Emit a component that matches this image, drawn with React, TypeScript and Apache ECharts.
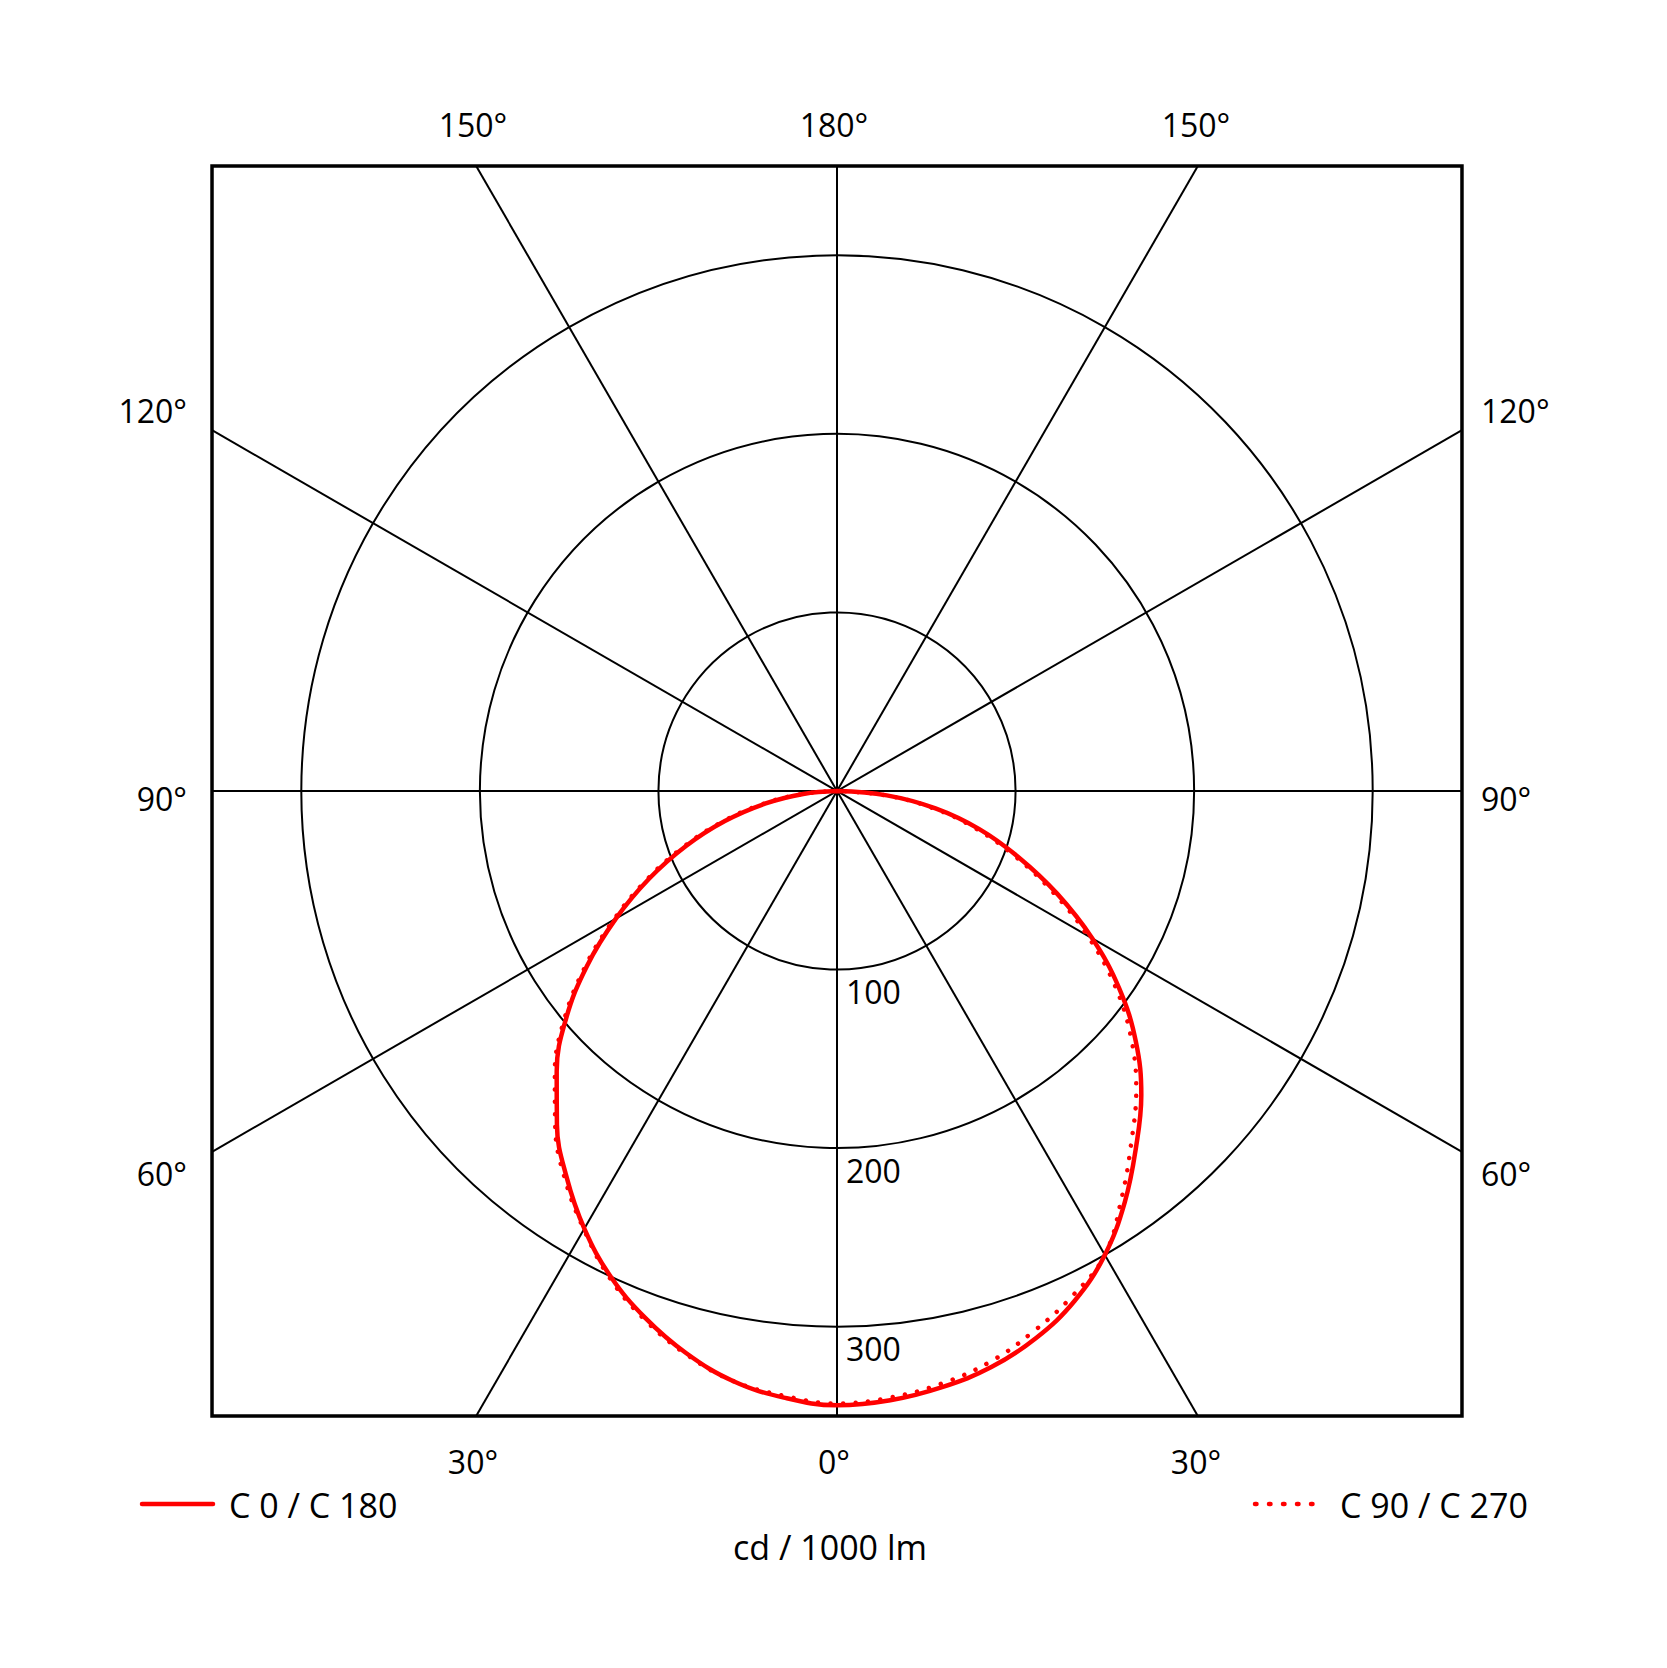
import React, { useEffect, useRef } from "react";
import * as echarts from "echarts";

// ---- data (cd / 1000 lm) ----
const gammaAngles = [0, 5, 10, 15, 20, 25, 30, 35, 40, 45, 50, 55, 60, 65, 70, 75, 80, 85, 90];
// right half, solid
const c0 = [344, 342.5, 339, 334, 326, 315, 300, 281, 260.5, 241, 218.5, 193, 165, 136, 108, 82.5, 56, 28, 0];
// left half, solid
const c180 = [344, 341, 335.5, 326, 314, 300, 283, 264, 244, 222, 198, 171, 143, 116, 90, 65, 41, 19, 0];
// right half, dotted
const c90 = [343, 341, 337, 331, 322, 312, 300, 278, 256.5, 237, 215, 190, 162, 133, 105.5, 80, 54, 27, 0];
// left half, dotted
const c270 = [343, 340, 335.5, 326.5, 315, 301, 283.5, 265.5, 245.5, 223.5, 199.5, 172.5, 144.5, 117.5, 91.5, 66.5, 42.5, 20, 0];

const radiusTicks = [100, 200, 300];
const radiusMax = 500; // axis extent (covers the frame corners); circles drawn only for radiusTicks
const frameHalf = 350; // cd, half size of the square frame
const spokeAngles = [0, 30, 60, 90, 120, 150];
const topLabels = ["150°", "180°", "150°"];
const bottomLabels = ["30°", "0°", "30°"];
const sideLabels = ["120°", "90°", "60°"];
const legendNames = ["C 0 / C 180", "C 90 / C 270"];
const unitLabel = "cd / 1000 lm";

// ---- layout ----
const W = 1667;
const H = 1668;
const CX = 837;
const CY = 791;
const PX_PER_CD = 535.7 / 300;
const FONT = '"Open Sans", "Noto Sans", sans-serif';
const FS = 32;
const FS_LEGEND = 34;
const RED = "#ff0000";

function buildCurve(left: number[], right: number[]) {
  const pts: number[][] = [];
  for (let i = gammaAngles.length - 1; i >= 0; i--) pts.push([left[i], gammaAngles[i]]);
  for (let i = 1; i < gammaAngles.length; i++) pts.push([right[i], 360 - gammaAngles[i]]);
  return pts;
}

function text(x: number, y: number, t: string, align: string, fs: number = FS) {
  return {
    type: "text",
    x,
    y,
    silent: true,
    style: {
      text: t,
      fill: "#000",
      fontSize: fs,
      fontFamily: FONT,
      align,
      verticalAlign: "middle",
      textAlign: align,
      textVerticalAlign: "middle",
    },
  };
}

export default function App() {
  const ref = useRef<HTMLDivElement>(null);
  useEffect(() => {
    if (!ref.current) return;
    const chart = echarts.init(ref.current, undefined, { renderer: "svg" });

    const spokeSeries = spokeAngles.map((a) => {
      const rad = (a * Math.PI) / 180;
      const len = frameHalf / Math.max(Math.abs(Math.cos(rad)), Math.abs(Math.sin(rad)));
      return {
        type: "line",
        coordinateSystem: "polar",
        data: [
          [len, a],
          [len, a + 180],
        ],
        symbol: "none",
        silent: true,
        clip: false,
        lineStyle: { color: "#000", width: 2 },
        z: 1,
      };
    });

    const cornerR = frameHalf * Math.SQRT2;
    const frameSeries = {
      type: "line",
      coordinateSystem: "polar",
      data: [
        [cornerR, 45],
        [cornerR, 135],
        [cornerR, 225],
        [cornerR, 315],
        [cornerR, 45],
      ],
      symbol: "none",
      silent: true,
      clip: false,
      lineStyle: { color: "#000", width: 3.5, join: "miter", cap: "square" },
      z: 2,
    };

    // colour per radius tick (0,100,...,500): only radiusTicks visible
    const splitColors: string[] = [];
    for (let v = 0; v <= radiusMax; v += 100) {
      splitColors.push(radiusTicks.indexOf(v) >= 0 ? "#000" : "rgba(0,0,0,0)");
    }

    const topY = 124;
    const botY = 1461;
    const leftX = 187;
    const rightX = 1481;
    const sideYs = [410, 798, 1173];
    const colXs = [473, 834, 1196];

    const graphics: any[] = [];
    topLabels.forEach((t, i) => graphics.push(text(colXs[i], topY, t, "center")));
    bottomLabels.forEach((t, i) => graphics.push(text(colXs[i], botY, t, "center")));
    sideLabels.forEach((t, i) => {
      graphics.push(text(leftX, sideYs[i], t, "right"));
      graphics.push(text(rightX, sideYs[i], t, "left"));
    });
    radiusTicks.forEach((v) => {
      graphics.push(text(CX + 9, CY + v * PX_PER_CD + 22, String(v), "left"));
    });
    // legend
    graphics.push({
      type: "line",
      silent: true,
      shape: { x1: 142, y1: 1504, x2: 213, y2: 1504 },
      style: { stroke: RED, lineWidth: 4.5, lineCap: "round" },
    });
    graphics.push(text(229, 1505, legendNames[0], "left", FS_LEGEND));
    graphics.push({
      type: "line",
      silent: true,
      shape: { x1: 1255, y1: 1504, x2: 1313, y2: 1504 },
      style: { stroke: RED, lineWidth: 4.5, lineCap: "round", lineDash: [1.5, 12.5] },
    });
    graphics.push(text(1340, 1505, legendNames[1], "left", FS_LEGEND));
    graphics.push(text(830, 1547, unitLabel, "center", FS_LEGEND));

    chart.setOption({
      animation: false,
      backgroundColor: "#fff",
      polar: { center: [CX, CY], radius: radiusMax * PX_PER_CD },
      angleAxis: {
        type: "value",
        min: 0,
        max: 360,
        startAngle: 270,
        clockwise: true,
        axisLine: { show: false },
        axisTick: { show: false },
        axisLabel: { show: false },
        splitLine: { show: false },
      },
      radiusAxis: {
        type: "value",
        min: 0,
        max: radiusMax,
        interval: 100,
        axisLine: { show: false },
        axisTick: { show: false },
        axisLabel: { show: false },
        splitLine: { show: true, lineStyle: { color: splitColors, width: 2 } },
      },
      series: [
        ...spokeSeries,
        frameSeries,
        {
          name: legendNames[0],
          type: "line",
          coordinateSystem: "polar",
          data: buildCurve(c180, c0),
          symbol: "none",
          smooth: 0.4,
          clip: false,
          lineStyle: { color: RED, width: 4.5 },
          z: 5,
        },
        {
          name: legendNames[1],
          type: "line",
          coordinateSystem: "polar",
          data: buildCurve(c270, c90),
          symbol: "none",
          smooth: 0.4,
          clip: false,
          lineStyle: { color: RED, width: 4.5, type: [0.01, 12.5], cap: "round" },
          z: 6,
        },
      ],
      graphic: graphics,
    });
    return () => chart.dispose();
  }, []);
  return (
    <div
      ref={ref}
      style={{ position: "absolute", left: 0, top: 0, width: W, height: H, background: "#fff" }}
    />
  );
}
